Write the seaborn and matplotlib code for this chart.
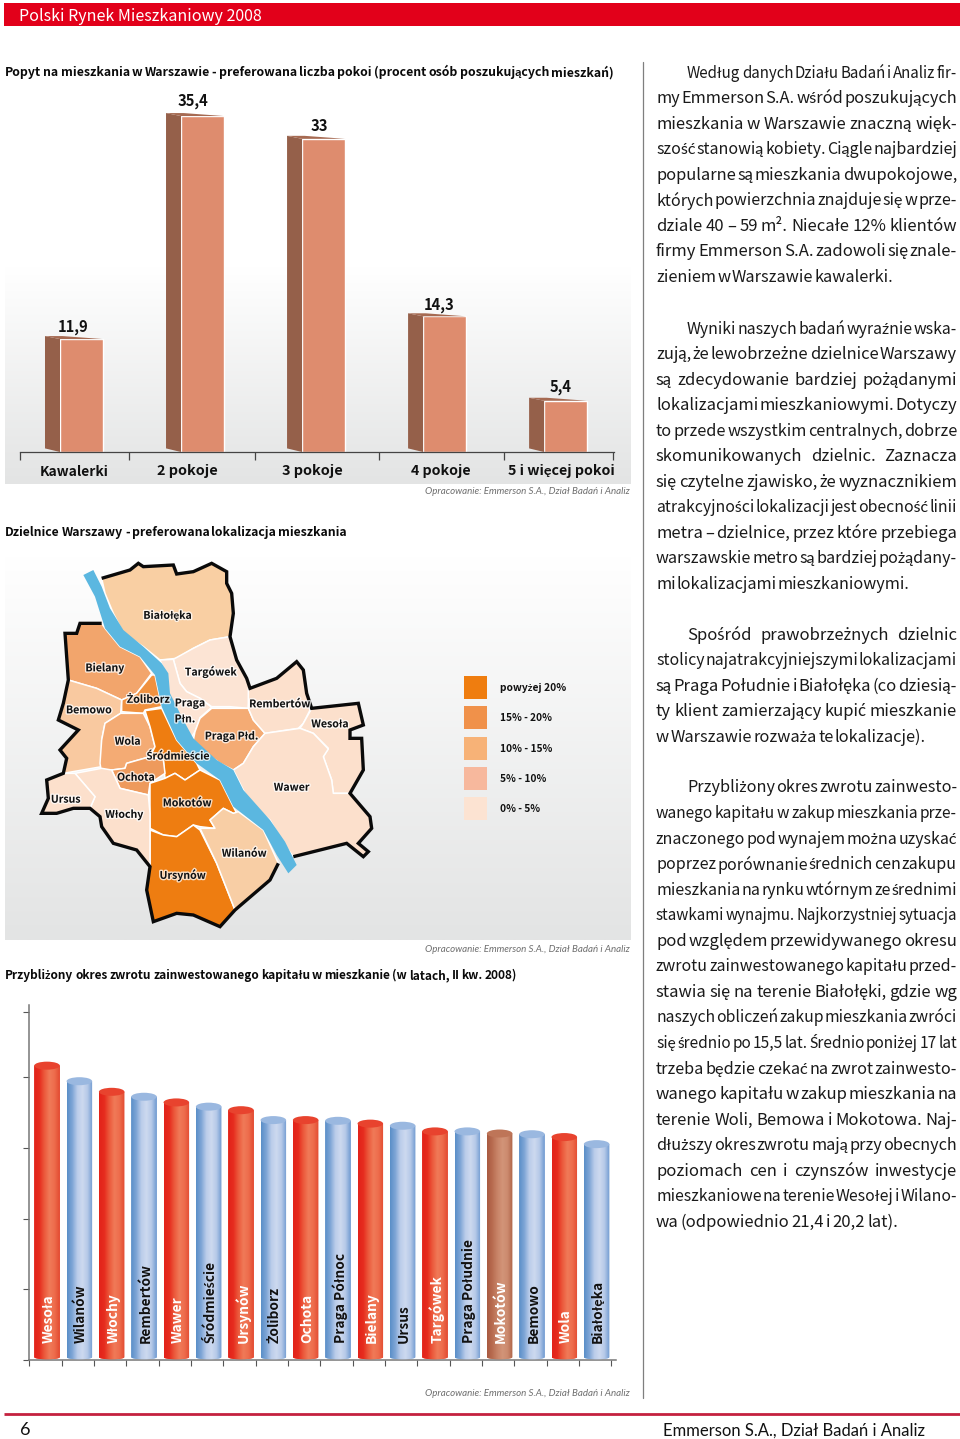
import numpy as np
import pandas as pd
import matplotlib
matplotlib.use("Agg")
import matplotlib.pyplot as plt
import matplotlib.patheffects as pe
from matplotlib.colors import LinearSegmentedColormap
from matplotlib.patches import Polygon, Ellipse, PathPatch, Rectangle
from matplotlib.path import Path
import seaborn as sns

# ---------- data ----------
rooms = ["Kawalerki", "2 pokoje", "3 pokoje", "4 pokoje", "5 i więcej pokoi"]
room_share = [11.9, 35.4, 33.0, 14.3, 5.4]
room_value_labels = ["11,9", "35,4", "33", "14,3", "5,4"]
room_ticks = [-0.508, 0.39, 1.43, 2.46, 3.49, 4.39]

districts = ["Wesoła", "Wilanów", "Włochy", "Rembertów", "Wawer", "Śródmieście", "Ursynów", "Żoliborz", "Ochota",
             "Praga Północ", "Bielany", "Ursus", "Targówek", "Praga Południe", "Mokotów", "Bemowo", "Wola", "Białołęka"]
payback = [21.1, 20.0, 19.25, 18.9, 18.5, 18.2, 17.95, 17.25, 17.25, 17.2, 17.0, 16.85, 16.45, 16.45, 16.3, 16.25, 16.05, 15.55]
tone = ["red", "blue", "red", "blue", "red", "blue", "red", "blue", "red",
        "blue", "red", "blue", "red", "blue", "brown", "blue", "red", "blue"]
payback_ticks = [0, 5, 10, 15, 20, 24.6]

legend_labels = ["powyżej 20%", "15% - 20%", "10% - 15%", "5% - 10%", "0% - 5%"]
legend_colors = ["#EF7D0F", "#F0914A", "#F7B277", "#F7B89D", "#FCE3D2"]

map_regions = {
    "Białołęka": ("#F9CFA3", [(215,85),(300,60),(325,40),(340,50),(430,45),(440,72),(490,65),(545,40),(590,65),(590,100),(605,130),(610,190),(600,260),(540,270),(490,295),(440,325),(390,330),(340,290),(280,250),(250,190),(225,130)]),
    "Targówek": ("#FCE4D4", [(430,328),(490,295),(540,270),(600,260),(620,330),(650,385),(660,415),(655,475),(600,470),(545,470),(510,445),(470,425),(450,400)]),
    "Praga Płn": ("#FCE4D4", [(390,330),(430,328),(450,400),(470,425),(510,445),(545,472),(510,503),(495,545),(482,565),(460,520),(420,450),(410,380)]),
    "Praga Płd": ("#F4AB74", [(545,475),(655,475),(670,510),(705,550),(670,590),(640,640),(610,660),(570,640),(530,610),(490,570),(495,545),(510,505)]),
    "Rembertów": ("#FCE0CC", [(655,415),(740,385),(800,335),(820,360),(830,430),(840,480),(820,520),(805,535),(705,550),(670,510),(655,475)]),
    "Wesoła": ("#FCE0CC", [(845,475),(985,460),(1000,525),(960,540),(960,565),(995,565),(1000,660),(960,730),(910,730),(905,690),(880,620),(895,595),(850,550),(810,535),(820,520)]),
    "Wawer": ("#FCE0CC", [(705,550),(810,535),(850,550),(895,597),(880,620),(905,690),(910,730),(960,730),(1020,800),(1025,835),(985,880),(1015,905),(1000,920),(950,880),(790,920),(760,880),(720,810),(660,760),(620,680),(610,660),(640,640),(670,590)]),
    "Bielany": ("#F2A56C", [(105,250),(140,250),(150,220),(215,220),(225,235),(270,290),(330,320),(365,370),(320,430),(275,450),(200,415),(115,390)]),
    "Żoliborz": ("#F0913F", [(365,375),(375,375),(395,470),(345,480),(340,490),(275,485),(275,450),(320,430)]),
    "Bemowo": ("#F9C9A0", [(115,390),(200,415),(275,450),(272,490),(225,520),(215,570),(215,650),(100,670),(110,625),(90,600),(145,540),(85,510),(100,460)]),
    "Wola": ("#F4AB74", [(272,490),(340,490),(360,530),(375,590),(360,620),(290,640),(285,655),(245,660),(215,670),(210,640),(215,570),(225,520)]),
    "Śródmieście": ("#EE7D11", [(345,482),(395,475),(440,570),(500,640),(510,660),(465,690),(435,670),(405,685),(400,630),(360,620),(375,590),(360,530)]),
    "Ochota": ("#EE9A5C", [(290,640),(360,620),(400,630),(405,670),(360,700),(355,735),(270,715),(245,660),(285,655)]),
    "Mokotów": ("#EE7D11", [(405,685),(435,670),(465,690),(510,660),(570,690),(620,790),(610,790),(580,775),(540,810),(555,835),(510,830),(490,825),(440,860),(400,855),(360,835),(360,700)]),
    "Ursynów": ("#EE7D11", [(360,840),(400,855),(440,860),(490,825),(510,840),(560,940),(615,1080),(570,1130),(490,1095),(440,1090),(370,1115),(350,1020),(360,950)]),
    "Wilanów": ("#F8CEA5", [(510,835),(555,835),(540,810),(580,775),(610,790),(625,785),(700,840),(745,940),(720,990),(615,1080),(560,940)]),
    "Włochy": ("#FCE0CC", [(135,670),(215,655),(245,660),(270,715),(355,735),(360,790),(360,950),(320,900),(250,880),(215,830),(210,800),(180,775),(195,740)]),
    "Ursus": ("#FCE0CC", [(50,690),(100,670),(135,670),(195,740),(180,775),(130,775),(80,790),(35,790),(55,745)]),
}
map_river = [(160,75),(190,60),(215,110),(240,175),(280,240),(340,290),(395,340),(415,370),(420,430),(460,510),(490,565),(560,630),(610,660),(640,720),(720,810),(765,875),(800,945),(775,970),(740,915),(700,840),(610,770),(570,690),(500,640),(440,570),(395,470),(375,375),(330,320),(270,290),(225,235),(195,140)]
map_border_east = [(215,85),(300,60),(325,40),(340,50),(430,45),(440,72),(490,65),(545,40),(590,65),(590,100),(605,130),(610,190),(600,260),(620,330),(650,385),(660,415),(740,385),(800,335),(820,360),(830,430),(845,475),(985,460),(1000,525),(960,540),(960,565),(995,565),(1000,660),(960,730),(1020,800),(1025,835),(985,880),(1015,905),(1000,920),(950,880),(790,920)]
map_border_west = [(215,220),(150,220),(140,250),(105,250),(115,390),(100,460),(85,510),(145,540),(90,600),(110,625),(100,670),(50,690),(55,745),(35,790),(80,790),(130,775),(180,775),(210,800),(215,830),(250,880),(320,900),(360,950),(350,1020),(370,1115),(440,1090),(490,1095),(570,1130),(615,1080),(720,990),(745,940)]
map_labels = [("Białołęka",413,193),("Bielany",225,352),("Targówek",543,362),("Żoliborz",355,445),("Praga",480,457),("Płn.",465,505),
              ("Bemowo",177,478),("Rembertów",750,460),("Wesoła",900,520),("Praga Płd.",605,555),("Wola",293,572),("Śródmieście",445,615),
              ("Ochota",318,680),("Ursus",107,746),("Włochy",283,790),("Mokotów",472,757),("Wawer",785,710),("Wilanów",643,908),("Ursynów",458,972)]

body_blocks = [
    (71, ["Według danych Działu Badań i Analiz fir-", "my Emmerson S.A. wśród poszukujących", "mieszkania w Warszawie znaczną więk-",
          "szość stanowią kobiety. Ciągle najbardziej", "popularne są mieszkania dwupokojowe,", "których powierzchnia znajduje się w prze-",
          "dziale 40 – 59 m². Niecałe 12% klientów", "firmy Emmerson S.A. zadowoli się znale-", "zieniem w Warszawie kawalerki."], 893),
    (327, ["Wyniki naszych badań wyraźnie wska-", "zują, że lewobrzeżne dzielnice Warszawy", "są zdecydowanie bardziej pożądanymi",
           "lokalizacjami mieszkaniowymi. Dotyczy", "to przede wszystkim centralnych, dobrze", "skomunikowanych dzielnic. Zaznacza",
           "się czytelne zjawisko, że wyznacznikiem", "atrakcyjności lokalizacji jest obecność linii", "metra – dzielnice, przez które przebiega",
           "warszawskie metro są bardziej pożądany-", "mi lokalizacjami mieszkaniowymi."], 909),
    (633, ["Spośród prawobrzeżnych dzielnic", "stolicy najatrakcyjniejszymi lokalizacjami", "są Praga Południe i Białołęka (co dziesią-",
           "ty klient zamierzający kupić mieszkanie", "w Warszawie rozważa te lokalizacje)."], 926),
    (786, ["Przybliżony okres zwrotu zainwesto-", "wanego kapitału w zakup mieszkania prze-", "znaczonego pod wynajem można uzyskać",
           "poprzez porównanie średnich cen zakupu", "mieszkania na rynku wtórnym ze średnimi", "stawkami wynajmu. Najkorzystniej sytuacja",
           "pod względem przewidywanego okresu", "zwrotu zainwestowanego kapitału przed-", "stawia się na terenie Białołęki, gdzie wg",
           "naszych obliczeń zakup mieszkania zwróci", "się średnio po 15,5 lat. Średnio poniżej 17 lat", "trzeba będzie czekać na zwrot zainwesto-",
           "wanego kapitału w zakup mieszkania na", "terenie Woli, Bemowa i Mokotowa. Naj-", "dłuższy okres zwrotu mają przy obecnych",
           "poziomach cen i czynszów inwestycje", "mieszkaniowe na terenie Wesołej i Wilano-", "wa (odpowiednio 21,4 i 20,2 lat)."], 898),
]
source_note = "Opracowanie: Emmerson S.A., Dział Badań i Analiz"

# ---------- set-up ----------
sns.set_theme(style="white")
MAIN = ["Noto Sans CJK JP", "Lato", "DejaVu Sans"]
LATO = ["Lato", "DejaVu Sans"]
plt.rcParams["font.family"] = MAIN

W, H = 960, 1439
fig = plt.figure(figsize=(W / 100, H / 100), dpi=100, facecolor="white")
rend = fig.canvas.get_renderer()

def px_axes(x0, y0, x1, y1, z=1):
    ax = fig.add_axes([x0 / W, 1 - y1 / H, (x1 - x0) / W, (y1 - y0) / H], zorder=z)
    ax.patch.set_alpha(0)
    return ax

page = px_axes(0, 0, W, H, 0)
page.axis("off")

def fit(x0, x1, y, s, family=MAIN, weight="normal", style="normal", color="black", ax=page, size=12, z=None):
    t = ax.text(x0, y, s, family=family, weight=weight, style=style, color=color,
                fontsize=size, ha="left", va="center_baseline", zorder=z)
    t.set_fontsize(size * (x1 - x0) / t.get_window_extent(rend).width)
    return t

def width(s, size, family=MAIN, weight="normal"):
    t = page.text(0, 0, s, family=family, fontsize=size, weight=weight)
    w = t.get_window_extent(rend).width
    t.remove()
    return w

def fit_words(x0, x1, y, s, family=MAIN, weight="bold", gap_em=0.17):
    words = s.split(" ")
    size = 12.0
    for _ in range(3):
        total = sum(width(w, size, family, weight) for w in words)
        total += (len(words) - 1) * gap_em * size * 100 / 72
        size *= (x1 - x0) / total
    x = x0
    for w in words:
        page.text(x, y, w, family=family, weight=weight, fontsize=size, ha="left", va="center_baseline", color="#0A0A0A")
        x += width(w, size, family, weight) + gap_em * size * 100 / 72

def grey_fade(x0, x1, y0, y1):
    cm = LinearSegmentedColormap.from_list("f", ["#FFFFFF", "#E3E4E4"])
    page.imshow(np.linspace(0, 1, 256)[:, None], cmap=cm, extent=(x0, x1, y1, y0), aspect="auto", zorder=0)

# header, footer, panels
page.add_patch(Rectangle((4, 3), W - 4, 23, color="#E2001A", lw=0))
fit(19, 261, 14.5, "Polski Rynek Mieszkaniowy 2008", color="white")
grey_fade(5, 631, 267, 484)
grey_fade(5, 631, 556, 940)
page.plot([643, 643], [62, 1398], color="#7F7F7F", lw=0.9)
page.plot([4, W], [1414, 1414], color="#C4213F", lw=2.0, solid_capstyle="butt")
page.text(20, 1435, "6", fontsize=13, va="baseline", ha="left", color="#111111", family=LATO)
page.text(663, 1436, "Emmerson S.A., Dział Badań i Analiz", fontsize=12.0, va="baseline", ha="left", color="#111111", family=LATO)

fit_words(5, 612, 71, "Popyt na mieszkania w Warszawie - preferowana liczba pokoi (procent osób poszukujących mieszkań)")
fit_words(5, 349, 531, "Dzielnice Warszawy - preferowana lokalizacja mieszkania")
fit_words(5, 519, 974, "Przybliżony okres zwrotu zainwestowanego kapitału w mieszkanie (w latach, II kw. 2008)")
for y in (491, 948, 1392):
    fit(425, 631, y, source_note, LATO, style="italic", color="#6E6E6E")

# ---------- chart 1: rooms ----------
PX_X, PX_Y = 121.0, 9.49
ax1 = px_axes(20, 90, 614, 452, 2)
rooms_df = pd.DataFrame({"rooms": rooms, "share": room_share})
sns.barplot(data=rooms_df, x="rooms", y="share", color="#DE8C6E", saturation=1, width=0.355, ax=ax1)
ax1.set_xlim(-0.508, 4.40)
ax1.set_ylim(0, 362 / PX_Y)
dx, dy = 15 / PX_X, 3 / PX_Y
for p, lab, off, up in zip(ax1.patches, room_value_labels, [-8, -9.5, -4, -5, -5], [14, 17, 14.5, 13, 15]):
    x0, w, v = p.get_x(), p.get_width(), p.get_height()
    ax1.add_patch(Polygon([(x0, 0), (x0 - dx, dy * 1.2), (x0 - dx, v + dy), (x0, v)], color="#95604A", lw=0, zorder=3))
    ax1.add_patch(Polygon([(x0, v), (x0 - dx, v + dy), (x0 + w - 2.7 * dx, v + dy), (x0 + w, v)], color="#A66A52", lw=0, zorder=3))
    ax1.annotate(lab, (x0 + w / 2, v), xytext=(off * 0.72, up * 0.72), textcoords="offset points", ha="center", va="center_baseline",
                 fontsize=10.6, weight="bold", color="#111111")
sns.despine(ax=ax1, left=True, top=True, right=True)
ax1.spines["bottom"].set_color("#444444")
ax1.spines["bottom"].set_linewidth(0.9)
ax1.set_yticks([])
ax1.set_xticks(room_ticks, labels=[""] * len(room_ticks))
ax1.tick_params(axis="x", bottom=True, length=6, width=0.9, color="#444444", direction="out", pad=0)
ax1.set_xlabel("")
ax1.set_ylabel("")
for s, a, b, y in zip(rooms, [40, 157, 282, 411, 508], [109, 218, 343, 471, 615], [470, 470, 469, 469, 470]):
    fit(a, b, y, s, weight="bold", color="#111111")

# ---------- map ----------
mp = px_axes(30, 550, 380, 930, 2)
mp.set_xlim(0, 1050)
mp.set_ylim(1140, 0)
mp.axis("off")
for name, (col, pts) in map_regions.items():
    mp.add_patch(Polygon(pts, closed=True, facecolor=col, edgecolor="white", lw=1.1, zorder=2, joinstyle="round"))
mp.add_patch(Polygon(map_river, closed=True, facecolor="#5BB7E0", edgecolor="none", zorder=3))
for border in (map_border_east, map_border_west):
    xs, ys = zip(*border)
    mp.plot(xs, ys, color="#0A0A0A", lw=2.4, zorder=4, solid_joinstyle="miter", solid_capstyle="butt")
for s, x, y in map_labels:
    mp.text(x, y, s, family=MAIN, weight="bold", fontsize=7.6, ha="center", va="center_baseline", color="#111111", zorder=5,
            path_effects=[pe.withStroke(linewidth=2, foreground="white", alpha=0.75)])

# legend
for lab, col, y, end in zip(legend_labels, legend_colors, [687, 717, 748, 778, 808], [566, 552, 552, 546, 540]):
    page.add_patch(Rectangle((464, y - 11.5), 23, 23, color=col, lw=0, zorder=2))
    fit(500, end, y, lab, weight="bold", color="#111111", z=2)

# ---------- chart 3: payback ----------
YPX = 14.14
ax3 = px_axes(29.4, 1005, 616, 1360, 2)
pay_df = pd.DataFrame({"district": districts, "years": payback, "tone": tone})
tones = {"red": "#E93A26", "blue": "#8FB0DC", "brown": "#C87F62"}
sns.barplot(data=pay_df, x="district", y="years", hue="tone", palette=tones, dodge=False, width=0.79, saturation=1, legend=False, ax=ax3)
ramps = {
    "red": ["#E2231A", "#E62C1E", "#EC5A3C", "#F07A58", "#EE6C4C", "#E24A30"],
    "blue": ["#5A8FC8", "#7FA5D6", "#BBCDEA", "#CDD9EF", "#B5C9E8", "#6F9AD0"],
    "brown": ["#A85A40", "#B86C50", "#C88468", "#D29478", "#CC8A6E", "#AE6448"],
}
tops = {"red": "#E8432E", "blue": "#9AB8E0", "brown": "#BE7558"}
ew = 0.79
eh = 8 / YPX
for p in ax3.patches:
    if p.get_height() <= 0:
        continue
    i = int(round(p.get_x() + p.get_width() / 2))
    v = payback[i]
    x0, x1 = i - ew / 2, i + ew / 2
    t = tone[i]
    th = np.linspace(np.pi, 2 * np.pi, 30)
    bottom = np.c_[i + ew / 2 * np.cos(th), 0.15 + 0.15 * np.sin(th) + 0.05]
    outline = np.vstack([[(x0, v - eh / 2)], bottom, [(x1, v - eh / 2)], [(x0, v - eh / 2)]])
    clip = PathPatch(Path(outline), transform=ax3.transData, visible=False)
    ax3.add_patch(clip)
    p.set_clip_path(clip)
    p.set_edgecolor("none")
    im = ax3.imshow(np.linspace(0, 1, 64)[None, :], cmap=LinearSegmentedColormap.from_list("c" + t, ramps[t]),
                    extent=(x0, x1, 0, v), aspect="auto", zorder=3)
    im.set_clip_path(clip)
    ax3.add_patch(Ellipse((i, v - eh / 2), ew, eh, facecolor=tops[t], edgecolor="none", zorder=4))
    ax3.text(i + 0.05, 1.2, districts[i], rotation=90, ha="center", va="bottom", fontsize=9.9, weight="bold",
             color="white" if t != "blue" else "#111111", zorder=5)
ax3.set_xlim(-0.545, 17.6)
ax3.set_ylim(0, 355 / YPX)
ax3.set_xticks(np.arange(19) - 0.545, labels=[""] * 19)
ax3.set_yticks(payback_ticks, labels=[""] * len(payback_ticks))
ax3.tick_params(axis="both", bottom=True, left=True, length=4.5, width=0.8, color="#555555", direction="out", pad=0)
sns.despine(ax=ax3, top=True, right=True)
for sp in ("left", "bottom"):
    ax3.spines[sp].set_color("#777777")
    ax3.spines[sp].set_linewidth(1.1)
ax3.set_xlabel("")
ax3.set_ylabel("")

# ---------- body text ----------
LEFT, RIGHT, INDENT, STEP, SIZE = 656, 957, 687, 25.55, 12.0
for y0, lines, last_end in body_blocks:
    for k, line in enumerate(lines):
        y = y0 + k * STEP
        left = INDENT if k == 0 else LEFT
        right = last_end if k == len(lines) - 1 else RIGHT
        words = line.split(" ")
        size = SIZE
        ws = [width(w, size) for w in words]
        gap = (right - left - sum(ws)) / (len(words) - 1)
        if gap < 1.5:
            size = size * (right - left - 1.5 * (len(words) - 1)) / sum(ws)
            ws = [width(w, size) for w in words]
            gap = (right - left - sum(ws)) / (len(words) - 1)
        x = left
        for w, wd in zip(words, ws):
            page.text(x, y, w, fontsize=size, ha="left", va="center_baseline", color="#1A1A1A", family=MAIN)
            x += wd + gap

page.set_xlim(0, W)
page.set_ylim(H, 0)
fig.savefig("out.png", dpi=100)
